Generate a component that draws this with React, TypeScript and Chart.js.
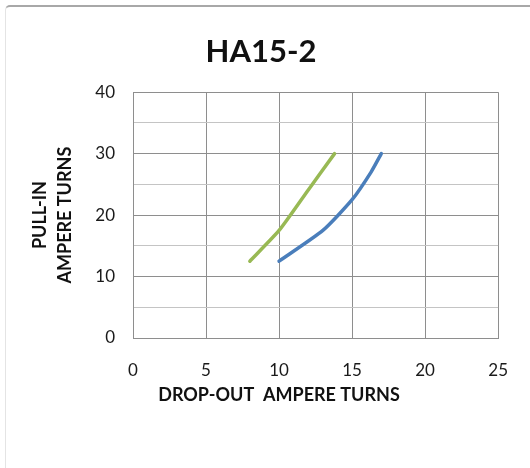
import React, { useEffect, useRef } from 'react';
import { Chart, registerables } from 'chart.js';

Chart.register(...registerables);

const TITLE = 'HA15-2';
const X_TITLE = 'DROP-OUT  AMPERE TURNS';
const Y_TITLE = ['PULL-IN', 'AMPERE TURNS'];

const blueX = [10, 13, 15, 16.3, 17];
const blueY = [12.5, 17.5, 22.5, 27, 30];
const greenX = [8, 10, 12, 13.8];
const greenY = [12.5, 17.5, 24.1, 30];

const X_MIN = 0;
const X_MAX = 25;
const X_STEP = 5;
const Y_MIN = 0;
const Y_MAX = 40;
const Y_STEP = 5;
const Y_LABEL_STEP = 10;

const toPoints = (xs: number[], ys: number[]) => xs.map((x, i) => ({ x, y: ys[i] }));

const xTitlePlugin = {
  id: 'xTitlePlugin',
  afterDraw(chart: any) {
    const { ctx, chartArea } = chart;
    ctx.save();
    ctx.font = 'bold 18px Lato';
    ctx.fillStyle = '#111';
    ctx.textAlign = 'center';
    ctx.textBaseline = 'middle';
    ctx.fillText(X_TITLE, chartArea.left + 146, chartArea.bottom + 57);
    ctx.restore();
  },
};

export default function App() {
  const ref = useRef<HTMLCanvasElement | null>(null);

  useEffect(() => {
    if (!ref.current) return;
    const chart = new Chart(ref.current, {
      type: 'line',
      data: {
        datasets: [
          {
            label: 'A',
            data: toPoints(blueX, blueY),
            borderColor: '#4A7EBB',
            backgroundColor: '#4A7EBB',
            borderWidth: 3.5,
            pointRadius: 0,
            tension: 0.2,
            borderCapStyle: 'round',
            borderJoinStyle: 'round',
          },
          {
            label: 'B',
            data: toPoints(greenX, greenY),
            borderColor: '#98B954',
            backgroundColor: '#98B954',
            borderWidth: 3.5,
            pointRadius: 0,
            tension: 0.2,
            borderCapStyle: 'round',
            borderJoinStyle: 'round',
          },
        ],
      },
      options: {
        responsive: false,
        animation: false,
        layout: { padding: { left: 20, right: 28, top: 0, bottom: 0 } },
        plugins: {
          legend: { display: false },
          tooltip: { enabled: false },
          title: {
            display: true,
            text: TITLE,
            color: '#111',
            font: { family: 'Lato', size: 31, weight: 'bold', lineHeight: 1.2 },
            padding: { top: 33, bottom: 22 },
          },
        },
        scales: {
          x: {
            type: 'linear',
            min: X_MIN,
            max: X_MAX,
            ticks: {
              stepSize: X_STEP,
              color: '#1a1a1a',
              font: { family: 'Lato', size: 17 },
              padding: 22,
              maxRotation: 0,
            },
            grid: { color: '#8e8e8e', lineWidth: 1, drawTicks: false },
            border: { color: '#8e8e8e' },
            afterFit: (s: any) => {
              s.height = 130;
            },
          },
          y: {
            type: 'linear',
            min: Y_MIN,
            max: Y_MAX,
            ticks: {
              stepSize: Y_STEP,
              color: '#1a1a1a',
              font: { family: 'Lato', size: 17 },
              padding: 18,
              callback: (v: any) => (Number(v) % Y_LABEL_STEP === 0 ? String(v) : ''),
            },
            grid: {
              color: (c: any) => (c.tick && c.tick.value % Y_LABEL_STEP === 0 ? '#8e8e8e' : '#c4c4c4'),
              lineWidth: 1,
              drawTicks: false,
            },
            border: { color: '#8e8e8e' },
            title: {
              display: true,
              text: Y_TITLE,
              color: '#111',
              font: { family: 'Lato', size: 18, weight: 'bold', lineHeight: 25 / 18 },
              padding: { top: 8, bottom: 0 },
            },
            afterFit: (s: any) => {
              s.width = 113;
            },
          },
        },
      },
      plugins: [xTitlePlugin],
    } as any);
    return () => chart.destroy();
  }, []);

  return (
    <div style={{ position: 'absolute', left: 0, top: 0, width: 530, height: 468, overflow: 'hidden', background: '#fff' }}>
      <div
        style={{
          position: 'absolute',
          left: 5,
          top: 5,
          width: 540,
          height: 480,
          borderTop: '2px solid #a8a8a8',
          borderLeft: '1px solid #e4e4e4',
          borderTopLeftRadius: 5,
          boxSizing: 'border-box',
        }}
      />
      <canvas ref={ref} width={530} height={468} style={{ position: 'absolute', left: 0, top: 0 }} />
    </div>
  );
}
